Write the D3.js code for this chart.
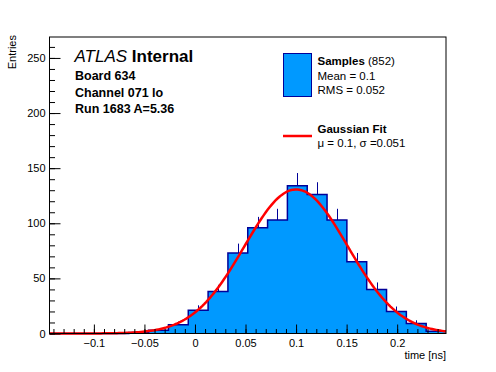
<!DOCTYPE html>
<html lang="en">
  <head>
    <meta charset="UTF-8" />
    <title>time resolution</title>
    <script src="https://cdn.jsdelivr.net/npm/d3@7"></script>
    <style>
      body {
        margin: 0;
        background: #fff;
      }
      text {
        font-family: "Liberation Sans", Arial, sans-serif;
      }
    </style>
  </head>
  <body>
    <script>
      const width = 496;
      const height = 372;

      // histogram: 20 bins over the time window
      const xMin = -0.1439;
      const xMax = 0.2483;
      const counts = [0, 0, 0, 0, 1, 3, 8, 21, 38, 73, 96, 103, 134, 126, 103, 65, 40, 20, 9, 2];
      const xMajorTicks = [-0.1, -0.05, 0, 0.05, 0.1, 0.15, 0.2];
      const yMajorTicks = [0, 50, 100, 150, 200, 250];

      // fit parameters
      const fitMean = 0.1;
      const fitSigma = 0.051;
      const nEntries = 852;

      const infoLines = ["Board 634", "Channel 071 lo", "Run 1683 A=5.36"];

      const margin = { left: 49.5, right: 446, top: 37, bottom: 333.5 };
      const fillColor = "#0099ff";
      const lineColor = "#000099";

      const svg = d3
        .select("body")
        .append("svg")
        .attr("width", width)
        .attr("height", height);

      const x = d3.scaleLinear().domain([xMin, xMax]).range([margin.left, margin.right]);
      const y = d3.scaleLinear().domain([0, 269]).range([margin.bottom, margin.top]);

      const binW = (xMax - xMin) / counts.length;
      const bins = counts.map((c, i) => ({ x0: xMin + i * binW, x1: xMin + (i + 1) * binW, n: c }));

      // error bars (drawn under the fill, so only the upper half shows)
      svg
        .append("g")
        .selectAll("line")
        .data(bins.filter((d) => d.n > 0))
        .join("line")
        .attr("x1", (d) => Math.round(x((d.x0 + d.x1) / 2)) + 0.5)
        .attr("x2", (d) => Math.round(x((d.x0 + d.x1) / 2)) + 0.5)
        .attr("y1", (d) => y(d.n - Math.sqrt(d.n)))
        .attr("y2", (d) => y(d.n + Math.sqrt(d.n)))
        .attr("stroke", lineColor)
        .attr("stroke-width", 1);

      // step shape for fill + outline
      const steps = [];
      bins.forEach((d) => {
        steps.push([d.x0, d.n]);
        steps.push([d.x1, d.n]);
      });
      svg
        .append("path")
        .datum(steps)
        .attr("fill", fillColor)
        .attr(
          "d",
          d3
            .area()
            .x((d) => x(d[0]))
            .y0(y(0))
            .y1((d) => y(d[1]))
        );
      svg
        .append("path")
        .datum(steps)
        .attr("fill", "none")
        .attr("stroke", lineColor)
        .attr("stroke-width", 1.5)
        .attr(
          "d",
          d3
            .line()
            .x((d) => x(d[0]))
            .y((d) => y(d[1]))
        );

      // gaussian fit curve
      const amp = (nEntries * binW) / (fitSigma * Math.sqrt(2 * Math.PI));
      const fitX = d3.range(0, 201).map((i) => xMin + ((xMax - xMin) * i) / 200);
      svg
        .append("path")
        .datum(fitX)
        .attr("fill", "none")
        .attr("stroke", "#ff0000")
        .attr("stroke-width", 2.5)
        .attr(
          "d",
          d3
            .line()
            .x((d) => x(d))
            .y((d) => y(amp * Math.exp(-0.5 * ((d - fitMean) / fitSigma) ** 2)))
        );

      // axes
      const fmt = d3.format("~g");
      svg
        .append("g")
        .attr("transform", `translate(0,${margin.bottom})`)
        .call(d3.axisBottom(x).tickValues(xMajorTicks).tickSize(-9).tickPadding(6).tickFormat(fmt));
      const xMinor = d3.range(-14, 25).map((i) => i / 100);
      svg
        .append("g")
        .attr("transform", `translate(0,${margin.bottom})`)
        .call(d3.axisBottom(x).tickValues(xMinor).tickSize(-4.5).tickFormat(""));

      svg
        .append("g")
        .attr("transform", `translate(${margin.left},0)`)
        .call(d3.axisLeft(y).tickValues(yMajorTicks).tickSize(-11).tickPadding(4));
      svg
        .append("g")
        .attr("transform", `translate(${margin.left},0)`)
        .call(d3.axisLeft(y).tickValues(d3.range(0, 261, 10)).tickSize(-5.5).tickFormat(""));

      svg.selectAll(".domain").remove();
      svg.selectAll(".tick text").attr("font-size", 11).attr("fill", "#000");
      svg.selectAll(".tick line").attr("stroke", "#000");

      // frame
      svg
        .append("rect")
        .attr("x", margin.left)
        .attr("y", margin.top)
        .attr("width", margin.right - margin.left)
        .attr("height", margin.bottom - margin.top)
        .attr("fill", "none")
        .attr("stroke", "#000");

      // axis titles
      svg
        .append("text")
        .attr("x", margin.right)
        .attr("y", 359)
        .attr("text-anchor", "end")
        .attr("font-size", 11)
        .text("time [ns]");
      svg
        .append("text")
        .attr("transform", `translate(16,${margin.top - 2}) rotate(-90)`)
        .attr("text-anchor", "end")
        .attr("font-size", 11)
        .text("Entries");

      // ATLAS label
      const atlas = svg.append("text").attr("x", 74.5).attr("y", 62).attr("font-size", 17);
      atlas.append("tspan").attr("font-style", "italic").text("ATLAS");
      atlas.append("tspan").attr("font-weight", "bold").text(" Internal");
      svg
        .append("g")
        .selectAll("text")
        .data(infoLines)
        .join("text")
        .attr("x", 75)
        .attr("y", (d, i) => 80 + i * 16.7)
        .attr("font-size", 12.5)
        .attr("font-weight", "bold")
        .text((d) => d);

      // legend
      const lg = svg.append("g");
      lg.append("rect")
        .attr("x", 283.5)
        .attr("y", 53.5)
        .attr("width", 28)
        .attr("height", 43)
        .attr("fill", fillColor)
        .attr("stroke", lineColor);
      const t1 = lg.append("text").attr("x", 317.5).attr("y", 65).attr("font-size", 11.5);
      t1.append("tspan").attr("font-weight", "bold").text("Samples");
      t1.append("tspan").text(` (${nEntries})`);
      lg.append("text").attr("x", 317.5).attr("y", 79.5).attr("font-size", 11.5).text("Mean = 0.1");
      lg.append("text").attr("x", 317.5).attr("y", 93.5).attr("font-size", 11.5).text("RMS = 0.052");
      lg.append("line")
        .attr("x1", 283)
        .attr("x2", 312)
        .attr("y1", 136)
        .attr("y2", 136)
        .attr("stroke", "#ff0000")
        .attr("stroke-width", 2.5);
      lg.append("text")
        .attr("x", 317.5)
        .attr("y", 133)
        .attr("font-size", 11.5)
        .attr("font-weight", "bold")
        .text("Gaussian Fit");
      lg.append("text")
        .attr("x", 317.5)
        .attr("y", 147)
        .attr("font-size", 11.5)
        .text(`\u03bc = ${fitMean}, \u03c3 =${fitSigma}`);
    </script>
  </body>
</html>
